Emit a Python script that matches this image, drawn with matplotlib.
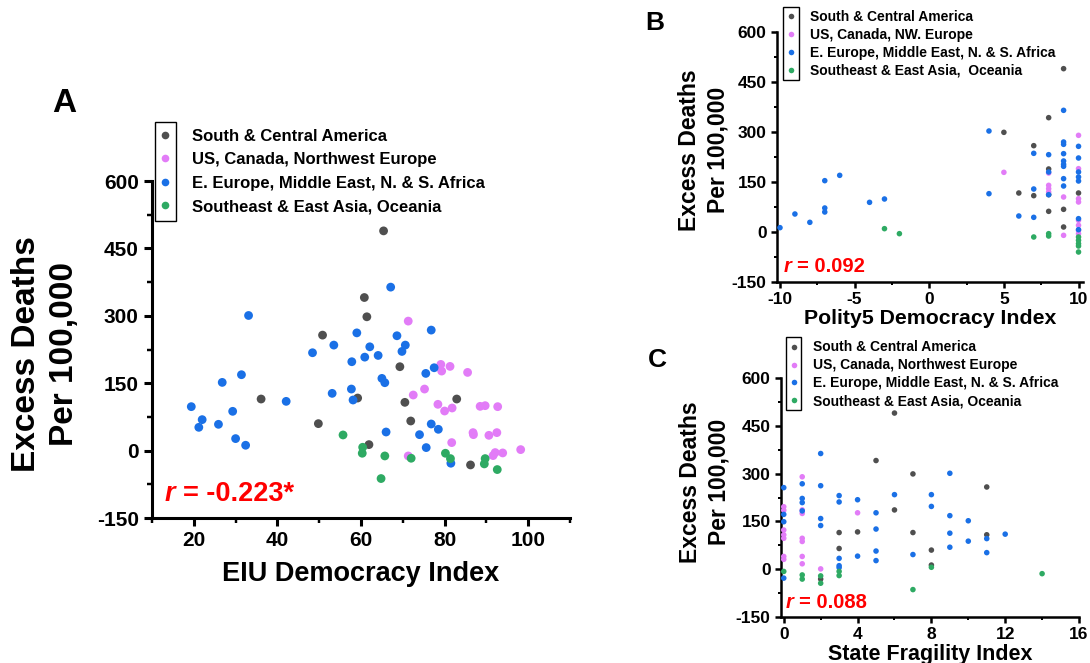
import numpy as np
import matplotlib
matplotlib.use("Agg")
from matplotlib import pyplot as plt
from matplotlib.patches import Rectangle
from matplotlib.ticker import MultipleLocator

plt.rcParams['font.family'] = ['Liberation Sans', 'DejaVu Sans']
plt.rcParams['font.weight'] = 'bold'
plt.rcParams['axes.unicode_minus'] = False

# ---- data ----
groups = ["South & Central America", "US, Canada, Northwest Europe",
          "E. Europe, Middle East, N. & S. Africa", "Southeast & East Asia, Oceania"]
groups_b = ["South & Central America", "US, Canada, NW. Europe",
            "E. Europe, Middle East, N. & S. Africa", "Southeast & East Asia,  Oceania"]
colors = ["#4f4f4f", "#e27cf7", "#1a70e6", "#2eaa63"]

# panel A: EIU democracy index vs excess deaths
a_gray_x = [36.1, 49.8, 50.8, 59.2, 60.8, 61.4, 61.9, 65.4, 69.3, 82.9, 70.5, 71.9, 86.2]
a_gray_y = [114.8, 60, 257, 117, 340.7, 297.8, 13.3, 489, 186.7, 114.8, 107.4, 65.9, -31.9]
a_pink_x = [71.3, 79.1, 79.3, 81.3, 85.5, 75.2, 72.5, 78.4, 81.8, 80.0, 88.5, 89.7, 92.7,
            86.8, 86.9, 90.6, 92.5, 81.7, 71.3, 91.6, 92.1, 93.9, 98.2]
a_pink_y = [288.2, 191.8, 177, 187.4, 174, 137, 123.7, 103, 94.8, 88.1, 98.5, 100, 97.8,
            40, 35.5, 34, 40, 17.8, -11.9, -11.1, -4.4, -5.2, 2.2]
a_blue_x = [33.1, 19.4, 22.0, 21.2, 26.8, 25.9, 29.3, 31.4, 30.0, 32.4, 42.1, 48.4, 53.5,
            59.0, 57.8, 60.9, 53.1, 57.7, 58.1, 62.1, 67.1, 76.8, 68.6, 70.6, 69.8, 64.1,
            77.5, 75.5, 65.0, 65.7, 76.8, 78.5, 66.0, 74.0, 75.6, 81.5]
a_blue_y = [300.7, 97.8, 68.9, 51.8, 151.8, 58.5, 87.4, 168.9, 26.7, 11.9, 109.6, 217.8, 234.8,
            262, 197.8, 208, 127.4, 137, 112.6, 231, 363.8, 268.2, 255.6, 234.8, 220.7, 211.8,
            184.4, 171.8, 160.7, 151.1, 59.2, 47.4, 41.4, 35.5, 6.7, -28.1]
a_green_x = [55.7, 60.4, 60.3, 65.7, 72.0, 80.2, 81.4, 89.7, 89.5, 92.6, 64.8]
a_green_y = [34.8, 7.4, -5.9, -11.9, -17, -5.9, -17.8, -17.8, -29.6, -42.2, -62.2]

# panel B: Polity5 democracy index
b_gray_x = [5, 6, 7, 7, 8, 8, 8, 8, 9, 9, 9, 10]
b_gray_y = [299, 117, 259, 109, 343, 189, 112, 62, 490, 68, 15, 117]
b_pink_x = [5, 8, 8, 8, 8, 9, 9, 10, 10, 10, 10, 10, 10, 10, 10]
b_pink_y = [179, 177, 140, 130, 120, 105, -10, 290, 190, 100, 90, 35, 20, 5, -5]
b_blue_x = [-10, -9, -8, -7, -7, -7, -6, -4, -3, 4, 4, 6, 7, 7, 7, 8, 8, 8,
            9, 9, 9, 9, 9, 9, 9, 9, 9, 10, 10, 10, 10, 10, 10, 10]
b_blue_y = [13, 54, 29, 154, 72, 60, 170, 89, 99, 303, 115, 48, 236, 129, 44, 232, 180, 112,
            365, 270, 263, 235, 213, 203, 197, 160, 138, 257, 222, 180, 165, 153, 40, 7]
b_green_x = [-3, -2, 7, 8, 8, 10, 10, 10, 10, 10]
b_green_y = [10, -5, -15, -5, -12, -15, -25, -35, -42, -60]

# panel C: state fragility index
c_gray_x = [2, 3, 3, 4, 5, 6, 6, 7, 7, 8, 8, 11, 11]
c_gray_y = [-31, 115, 65, 117, 341, 490, 186, 299, 115, 60, 13, 258, 108]
c_pink_x = [0, 0, 0, 0, 0, 0, 0, 1, 1, 1, 1, 1, 1, 1, 2, 4]
c_pink_y = [196, 185, 123, 108, 97, 40, 31, 290, 186, 175, 97, 87, 40, 17, 1, 177]
c_blue_x = [0, 0, 0, 0, 1, 1, 1, 1, 2, 2, 2, 2, 3, 3, 3, 3, 3, 4, 4, 5, 5, 5, 5, 6,
            7, 8, 8, 9, 9, 9, 9, 10, 10, 11, 11, 12]
c_blue_y = [256, 172, 149, -28, 268, 222, 209, 183, 363, 262, 159, 137, 231, 211, 34, 11, 5,
            218, 41, 177, 126, 57, 27, 234, 46, 234, 197, 301, 168, 113, 69, 152, 88, 96, 52, 110]
c_green_x = [0, 1, 1, 2, 2, 3, 3, 7, 8, 14]
c_green_y = [-7, -18, -31, -21, -44, -7, -20, -64, 6, -14]

r_texts = ["= -0.223*", "= 0.092", "= 0.088"]

W, H = 1090, 663
fig = plt.figure(figsize=(W / 100, H / 100), dpi=100)


def fr(x0, y0, x1, y1):
    # pixel box -> figure fraction [left, bottom, width, height]
    return [x0 / W, 1 - y1 / H, (x1 - x0) / W, (y1 - y0) / H]


def style_axes(ax, lw, tsize, ticklen):
    ax.spines['top'].set_visible(False)
    ax.spines['right'].set_visible(False)
    ax.spines['left'].set_linewidth(lw)
    ax.spines['bottom'].set_linewidth(lw)
    ax.tick_params(which='major', direction='out', length=ticklen, width=lw, labelsize=tsize)
    ax.tick_params(which='minor', direction='out', length=ticklen * 0.6, width=lw * 0.8)
    for lab in ax.get_xticklabels() + ax.get_yticklabels():
        lab.set_fontweight('bold')


def add_legend(ax, labels, anchor_px, fsize, msize, spacing, pad, box_px):
    hs = [plt.Line2D([], [], ls='', marker='o', ms=msize, mfc=c, mec='none') for c in colors]
    ax.legend(hs, labels, loc='upper left', bbox_to_anchor=(anchor_px[0] / W, 1 - anchor_px[1] / H),
              bbox_transform=fig.transFigure, frameon=False, borderpad=0, borderaxespad=0,
              handlelength=0.8, handletextpad=pad, labelspacing=spacing,
              prop={'weight': 'bold', 'size': fsize})
    x0, y0, x1, y1 = box_px
    fig.add_artist(Rectangle((x0 / W, 1 - y1 / H), (x1 - x0) / W, (y1 - y0) / H,
                             transform=fig.transFigure, fill=False, ec='black', lw=1.0))


def scatter_groups(ax, xs, ys, size):
    for gx, gy, c in zip(xs, ys, colors):
        ax.scatter(gx, gy, s=size, color=c, edgecolors='none', zorder=3, clip_on=False)


def r_label(x_px, y_px, gap_px, txt, fs):
    fig.text(x_px / W, 1 - y_px / H, "r", color='red', fontsize=fs,
             fontweight='bold', style='italic', va='center')
    fig.text((x_px + gap_px) / W, 1 - y_px / H, txt, color='red',
             fontsize=fs, fontweight='bold', va='center')


# ---------- panel A ----------
axA = fig.add_axes(fr(152, 181, 570, 518))
scatter_groups(axA, [a_gray_x, a_pink_x, a_blue_x, a_green_x],
               [a_gray_y, a_pink_y, a_blue_y, a_green_y], 40)
axA.set_xlim(10, 110)
axA.set_ylim(-150, 600)
axA.set_xticks([20, 40, 60, 80, 100])
axA.xaxis.set_minor_locator(MultipleLocator(10))
axA.set_yticks([-150, 0, 150, 300, 450, 600])
axA.yaxis.set_minor_locator(MultipleLocator(75))
style_axes(axA, 2.2, 15, 6)
axA.set_xlabel("EIU Democracy Index", fontsize=19.5, fontweight='bold', labelpad=8)
axA.set_ylabel("Excess Deaths\nPer 100,000", fontsize=24, fontweight='bold',
               linespacing=1.3)
axA.yaxis.set_label_coords(-0.172, 0.487)
r_label(165, 494, 18, r_texts[0], 19.5)
add_legend(axA, groups, (158, 129), 12, 5.5, 0.5, 1.25, (155, 122, 176, 221))
fig.text(52 / W, 1 - 103 / H, "A", fontsize=24, fontweight='bold', va='center')

# ---------- panel B ----------
axB = fig.add_axes(fr(777, 32, 1083, 282))
scatter_groups(axB, [b_gray_x, b_pink_x, b_blue_x, b_green_x],
               [b_gray_y, b_pink_y, b_blue_y, b_green_y], 16)
axB.set_xlim(-10.2, 10.3)
axB.set_ylim(-150, 600)
axB.set_xticks([-10, -5, 0, 5, 10])
axB.xaxis.set_minor_locator(MultipleLocator(2.5))
axB.set_yticks([-150, 0, 150, 300, 450, 600])
axB.yaxis.set_minor_locator(MultipleLocator(75))
style_axes(axB, 1.8, 12.5, 4)
axB.set_xlabel("Polity5 Democracy Index", fontsize=15.3, fontweight='bold', labelpad=1)
axB.set_ylabel("Excess Deaths\nPer 100,000", fontsize=16.5, fontweight='bold',
               linespacing=1.3)
axB.yaxis.set_label_coords(-0.154, 0.528)
r_label(784, 267, 13, r_texts[1], 14.5)
add_legend(axB, groups_b, (785.5, 10), 10, 4, 0.28, 1.0, (783, 7, 799, 80))
fig.text(645 / W, 1 - 23 / H, "B", fontsize=19, fontweight='bold', va='center')

# ---------- panel C ----------
axC = fig.add_axes(fr(781, 378, 1079, 617))
scatter_groups(axC, [c_gray_x, c_pink_x, c_blue_x, c_green_x],
               [c_gray_y, c_pink_y, c_blue_y, c_green_y], 16)
axC.set_xlim(-0.15, 16)
axC.set_ylim(-150, 600)
axC.set_xticks([0, 4, 8, 12, 16])
axC.xaxis.set_minor_locator(MultipleLocator(2))
axC.set_yticks([-150, 0, 150, 300, 450, 600])
axC.yaxis.set_minor_locator(MultipleLocator(75))
style_axes(axC, 1.8, 12.5, 4)
axC.set_xlabel("State Fragility Index", fontsize=15.5, fontweight='bold', labelpad=1)
axC.set_ylabel("Excess Deaths\nPer 100,000", fontsize=16.5, fontweight='bold',
               linespacing=1.3)
axC.yaxis.set_label_coords(-0.17, 0.565)
r_label(786, 602, 13, r_texts[2], 14.5)
add_legend(axC, groups, (788, 340.5), 10, 4, 0.28, 1.0, (786, 337, 801, 410))
fig.text(648 / W, 1 - 360 / H, "C", fontsize=19, fontweight='bold', va='center')

plt.savefig("out.png", dpi=100)
